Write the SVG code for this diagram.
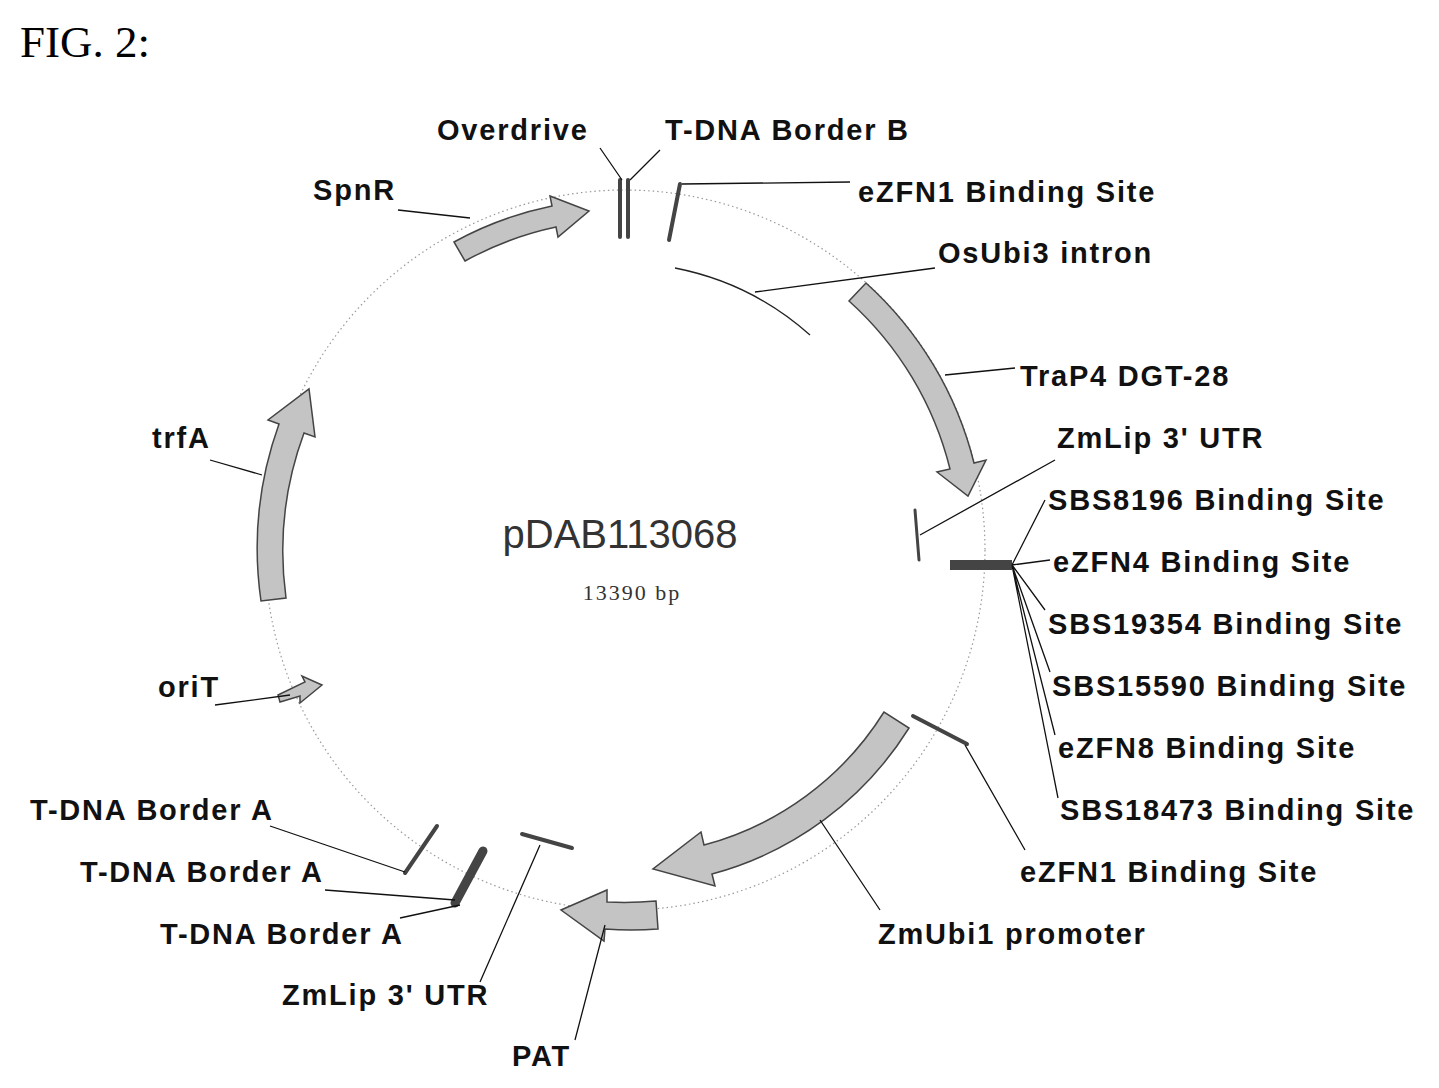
<svg xmlns="http://www.w3.org/2000/svg" width="1439" height="1088" viewBox="0 0 1439 1088">
<style>
.l{font-family:"Liberation Sans",Arial,sans-serif;font-weight:bold;font-size:29px;letter-spacing:1.8px;fill:#111}
.ld{stroke:#111;stroke-width:1.3;fill:none}
.ar{fill:#c4c4c4;stroke:#444;stroke-width:1.5}
.bar{stroke:#444;stroke-linecap:round;fill:none}
</style>
<rect width="1439" height="1088" fill="#fff"/>
<text x="20" y="57" font-family="Liberation Serif,serif" font-size="45">FIG. 2:</text>
<circle cx="625" cy="550" r="360" fill="none" stroke="#999" stroke-width="1.2" stroke-dasharray="1.5,3"/>
<g id="center"><text x="620" y="548" text-anchor="middle" font-family="Liberation Sans,sans-serif" font-size="40" fill="#333">pDAB113068</text>
<text x="632" y="600" text-anchor="middle" font-family="Liberation Serif,serif" font-size="22" letter-spacing="2" fill="#333">13390 bp</text></g>
<g id="SpnR"><path class="ar" d="M454,242 A352,352 0 0 1 552,206 L550,196 L589,211 L558,237 L556,227 A330,330 0 0 0 465,261 Z"/></g>
<g id="OsUbi3"><path d="M675,268 A285,285 0 0 1 810,335" fill="none" stroke="#222" stroke-width="1.3"/></g>
<g id="TraP4"><path class="ar" d="M866,283 A360,360 0 0 1 974,463 L986,460 L968,496 L937,472 L950,469 A335,335 0 0 0 849,301 Z"/></g>
<g id="ZmUbi1"><path class="ar" d="M909,728 A335,335 0 0 1 712,874 L715,886 L653,869 L701,832 L704,845 A305,305 0 0 0 884,712 Z"/></g>
<g id="PAT"><path class="ar" d="M658,929 A380,380 0 0 1 605,929 L604,941 L561,910 L607,890 L607,902 A352,352 0 0 0 656,901 Z"/></g>
<g id="oriT"><path class="ar" d="M278,695 L305,682 L302,676 L322,685 L300,703 L300,696 L280,702 Z"/></g>
<g id="trfA"><path class="ar" d="M261,601 A368,368 0 0 1 279,424 L268,420 L309,389 L315,437 L304,433 A342,342 0 0 0 286,598 Z"/></g>
<g id="features">
<line class="bar" x1="620" y1="180" x2="620" y2="237" stroke-width="4"/>
<line class="bar" x1="628" y1="180" x2="628" y2="237" stroke-width="4"/>
<line class="bar" x1="680" y1="184" x2="669" y2="240" stroke-width="4"/>
<line class="bar" x1="915" y1="510" x2="919" y2="560" stroke-width="3"/>
<line x1="950" y1="565" x2="1012" y2="565" stroke="#444" stroke-width="10"/>
<line class="bar" x1="913" y1="716" x2="967" y2="744" stroke-width="4"/>
<line class="bar" x1="405" y1="873" x2="437" y2="826" stroke-width="4"/>
<line class="bar" x1="455" y1="903" x2="483" y2="851" stroke-width="9"/>
<line class="bar" x1="522" y1="834" x2="572" y2="848" stroke-width="4"/>
</g>
<g id="connectors">
<path class="ld" d="M600,148 L622,180 M660,150 L630,180 M398,210 L470,218 M850,182 L682,184 M935,268 L755,292 M1015,368 L945,375 M1055,460 L920,535
M1012,565 L1045,500 M1012,565 L1050,560 M1012,565 L1045,610 M1012,565 L1050,672 M1012,565 L1055,735 M1012,565 L1058,798
M965,745 L1025,850 M820,820 L880,910 M270,826 L405,872 M325,890 L455,900 M400,918 L460,905 M480,982 L540,845 M575,1040 L605,925 M215,705 L290,695 M210,460 L262,475"/>
</g>
<g id="labels">
<text class="l" x="437" y="140">Overdrive</text>
<text class="l" x="665" y="140">T-DNA Border B</text>
<text class="l" x="313" y="200">SpnR</text>
<text class="l" x="858" y="202">eZFN1 Binding Site</text>
<text class="l" x="938" y="263">OsUbi3 intron</text>
<text class="l" x="1020" y="386">TraP4 DGT-28</text>
<text class="l" x="1057" y="448">ZmLip 3' UTR</text>
<text class="l" x="1048" y="510">SBS8196 Binding Site</text>
<text class="l" x="1053" y="572">eZFN4 Binding Site</text>
<text class="l" x="1048" y="634">SBS19354 Binding Site</text>
<text class="l" x="1052" y="696">SBS15590 Binding Site</text>
<text class="l" x="1058" y="758">eZFN8 Binding Site</text>
<text class="l" x="1060" y="820">SBS18473 Binding Site</text>
<text class="l" x="1020" y="882">eZFN1 Binding Site</text>
<text class="l" x="878" y="944">ZmUbi1 promoter</text>
<text class="l" x="30" y="820">T-DNA Border A</text>
<text class="l" x="80" y="882">T-DNA Border A</text>
<text class="l" x="160" y="944">T-DNA Border A</text>
<text class="l" x="282" y="1005">ZmLip 3' UTR</text>
<text class="l" x="512" y="1066">PAT</text>
<text class="l" x="158" y="697">oriT</text>
<text class="l" x="152" y="448">trfA</text>
</g>
</svg>
